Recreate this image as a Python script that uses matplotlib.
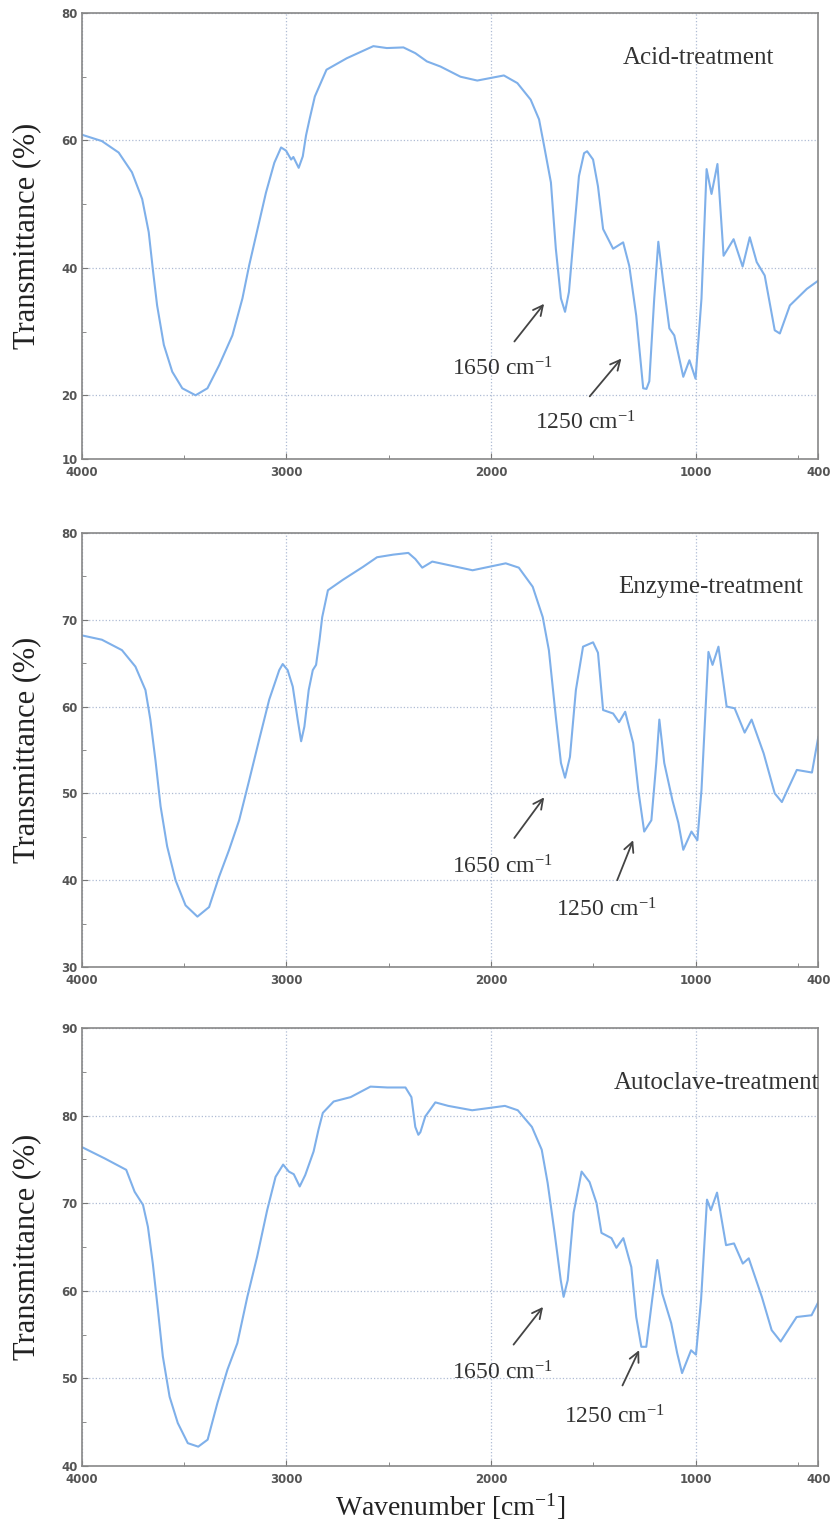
import numpy as np
import matplotlib
matplotlib.use("Agg")
from matplotlib import pyplot as plt
from matplotlib import ticker

plt.rcParams['mathtext.fontset'] = 'custom'
plt.rcParams['mathtext.rm'] = 'Liberation Serif'
plt.rcParams['mathtext.it'] = 'Liberation Serif:italic'

# (wavenumber, transmittance)
acid = np.array([
    (4000, 60.9), (3902, 59.9), (3820, 58.1), (3755, 55.0), (3705, 50.8), (3673, 45.6),
    (3653, 39.8), (3632, 34.1), (3599, 27.9), (3558, 23.7), (3509, 21.1), (3444, 20.0),
    (3386, 21.1), (3329, 24.7), (3264, 29.4), (3215, 35.2), (3182, 40.4), (3141, 46.1),
    (3100, 51.8), (3059, 56.5), (3026, 58.9), (3002, 58.4), (2977, 57.0), (2966, 57.4),
    (2940, 55.7), (2920, 57.5), (2904, 60.8), (2887, 63.3), (2861, 66.9), (2804, 71.1),
    (2705, 72.9), (2575, 74.8), (2509, 74.5), (2428, 74.6), (2370, 73.7), (2313, 72.4),
    (2247, 71.6), (2149, 70.0), (2067, 69.4), (2002, 69.8), (1937, 70.2), (1871, 69.0),
    (1806, 66.4), (1765, 63.3), (1740, 59.1), (1707, 53.4), (1683, 43.0), (1658, 35.2),
    (1638, 33.1), (1619, 36.2), (1594, 45.6), (1570, 54.4), (1545, 58.0), (1530, 58.3),
    (1501, 57.0), (1477, 52.8), (1452, 46.1), (1403, 43.0), (1354, 44.0), (1324, 40.3),
    (1290, 32.5), (1256, 21.1), (1240, 21.0), (1226, 22.2), (1202, 35.2), (1182, 44.1),
    (1158, 37.8), (1128, 30.5), (1104, 29.4), (1060, 22.9), (1030, 25.5), (1000, 22.6),
    (971, 35.2), (946, 55.5), (922, 51.6), (893, 56.3), (863, 41.9), (814, 44.5),
    (770, 40.2), (735, 44.8), (701, 40.9), (662, 38.8), (613, 30.2), (588, 29.7),
    (539, 34.1), (456, 36.7), (400, 38.0)])

enzyme = np.array([
    (4000, 68.2), (3902, 67.7), (3804, 66.5), (3738, 64.6), (3689, 61.9), (3665, 58.5),
    (3640, 53.8), (3615, 48.5), (3583, 43.9), (3542, 40.0), (3493, 37.1), (3435, 35.8),
    (3378, 36.9), (3329, 40.4), (3280, 43.5), (3231, 46.9), (3182, 51.5), (3133, 56.2),
    (3084, 60.8), (3035, 64.2), (3018, 64.9), (2994, 64.2), (2969, 62.3), (2945, 58.5),
    (2928, 56.0), (2912, 57.7), (2891, 61.9), (2871, 64.2), (2855, 64.8), (2838, 67.7),
    (2825, 70.3), (2797, 73.4), (2724, 74.6), (2625, 76.1), (2557, 77.2), (2478, 77.5),
    (2404, 77.7), (2370, 77.0), (2336, 76.0), (2287, 76.7), (2208, 76.3), (2090, 75.7),
    (1928, 76.5), (1864, 76.0), (1796, 73.8), (1747, 70.3), (1717, 66.5), (1683, 58.8),
    (1658, 53.5), (1638, 51.8), (1614, 54.2), (1585, 61.9), (1550, 66.9), (1501, 67.4),
    (1477, 66.2), (1452, 59.6), (1403, 59.2), (1374, 58.2), (1344, 59.4), (1305, 55.8),
    (1280, 50.4), (1251, 45.6), (1216, 46.9), (1192, 53.5), (1177, 58.5), (1153, 53.5),
    (1113, 49.2), (1084, 46.6), (1060, 43.5), (1020, 45.6), (991, 44.6), (971, 50.4),
    (937, 66.3), (917, 64.8), (888, 66.9), (848, 60.0), (809, 59.8), (760, 57.0),
    (726, 58.5), (667, 54.6), (613, 50.0), (578, 49.0), (505, 52.7), (431, 52.4),
    (400, 56.5)])

autoclave = np.array([
    (4000, 76.4), (3888, 75.1), (3783, 73.8), (3742, 71.3), (3701, 69.8), (3677, 67.3),
    (3653, 63.1), (3628, 57.8), (3604, 52.5), (3571, 47.9), (3531, 44.9), (3482, 42.6),
    (3431, 42.2), (3385, 43.0), (3337, 47.2), (3288, 51.0), (3240, 54.0), (3191, 59.3),
    (3143, 63.9), (3094, 69.2), (3053, 73.0), (3016, 74.4), (2988, 73.6), (2964, 73.3),
    (2935, 71.9), (2908, 73.2), (2867, 75.9), (2843, 78.4), (2822, 80.3), (2769, 81.6),
    (2686, 82.1), (2589, 83.3), (2506, 83.2), (2418, 83.2), (2389, 82.1), (2370, 78.7),
    (2355, 77.8), (2345, 78.1), (2321, 79.9), (2272, 81.5), (2209, 81.1), (2092, 80.6),
    (1932, 81.1), (1869, 80.6), (1800, 78.7), (1752, 76.1), (1723, 72.3), (1689, 66.6),
    (1659, 61.2), (1645, 59.3), (1625, 61.2), (1596, 68.9), (1557, 73.6), (1518, 72.4),
    (1484, 70.0), (1460, 66.6), (1411, 66.0), (1387, 64.9), (1353, 66.0), (1314, 62.7),
    (1290, 57.0), (1265, 53.6), (1241, 53.6), (1212, 59.0), (1187, 63.5), (1163, 59.7),
    (1119, 56.3), (1090, 52.9), (1066, 50.6), (1022, 53.2), (998, 52.7), (973, 59.0),
    (944, 70.4), (925, 69.2), (895, 71.2), (851, 65.2), (812, 65.4), (769, 63.1),
    (740, 63.7), (676, 59.3), (628, 55.5), (584, 54.2), (506, 57.0), (433, 57.2),
    (400, 58.7)])

names = ["Acid-treatment", "Enzyme-treatment", "Autoclave-treatment"]
ylims = [(10, 80), (30, 80), (40, 90)]
yticks = [[10, 20, 40, 60, 80], [30, 40, 50, 60, 70, 80], [40, 50, 60, 70, 80, 90]]
yminor = [[30, 50, 70], [35, 45, 55, 65, 75], [45, 55, 65, 75, 85]]
xticks = [4000, 3000, 2000, 1000, 400]
xminor = [3500, 2500, 1500, 500]

# annotation anchors in data coords
name_pos = [(1354, 73.0), (1378, 73.8), (1401, 83.7)]
txt1650 = [(2189, 24.2), (2189, 41.5), (2190, 50.6)]
arr1650 = [((1894, 28.1), (1732, 34.7)), ((1894, 44.6), (1732, 49.8)), ((1898, 53.6), (1737, 58.4))]
txt1250 = [(1786, 15.6), (1683, 36.6), (1645, 45.6)]
arr1250 = [((1526, 19.5), (1354, 26.1)), ((1388, 39.7), (1300, 44.9)), ((1363, 48.9), (1270, 53.5))]

series = [acid, enzyme, autoclave]
boxes = [[0.098, 0.7002, 0.882, 0.2913],
         [0.098, 0.3684, 0.882, 0.2835],
         [0.098, 0.0425, 0.882, 0.2861]]

fig = plt.figure(figsize=(8.35, 15.31), dpi=100)
serif = 'Liberation Serif'
txtcol = '#333333'

for i in range(3):
    ax = fig.add_axes(boxes[i])
    d = series[i]
    ax.plot(d[:, 0], d[:, 1], color='#7fb0ea', linewidth=1.5)
    ax.set_xlim(4000, 400)
    ax.set_ylim(*ylims[i])
    ax.set_xticks(xticks)
    ax.xaxis.set_minor_locator(ticker.FixedLocator(xminor))
    ax.set_yticks(yticks[i])
    ax.yaxis.set_minor_locator(ticker.FixedLocator(yminor[i]))
    ax.grid(True, which='major', linestyle=':', color='#aebbd4', linewidth=0.9)
    ax.tick_params(which='both', direction='in', colors='#777777', labelcolor='#555555',
                   labelsize=8.5)
    ax.tick_params(axis='x', pad=5)
    ax.tick_params(axis='y', pad=3)
    ax.tick_params(which='major', length=4)
    ax.tick_params(which='minor', length=3)
    for lab in ax.get_xticklabels() + ax.get_yticklabels():
        lab.set_fontweight('bold')
    for s in ax.spines.values():
        s.set_color('#888888')
        s.set_linewidth(1.2)

    ax.text(-0.075, 0.5, "Transmittance (%)", transform=ax.transAxes, rotation=90,
            ha='center', va='center', fontsize=22, family=serif, color='#222222')

    ax.text(name_pos[i][0], name_pos[i][1], names[i], ha='left', va='center',
            fontsize=18, family=serif, color=txtcol)
    ax.text(txt1650[i][0], txt1650[i][1], r"1650 cm$^{\mathrm{-1}}$", ha='left', va='center',
            fontsize=17, family=serif, color=txtcol)
    ax.text(txt1250[i][0], txt1250[i][1], r"1250 cm$^{\mathrm{-1}}$", ha='left', va='center',
            fontsize=17, family=serif, color=txtcol)
    for tail, head in (arr1650[i], arr1250[i]):
        ax.annotate("", xy=head, xytext=tail,
                    arrowprops=dict(arrowstyle='->,head_length=0.7,head_width=0.35',
                                    color='#444444', lw=1.3))

    if i == 2:
        ax.set_xlabel(r"Wavenumber [cm$^{\mathrm{-1}}$]", fontsize=20, family=serif,
                      color='#222222', labelpad=4)

fig.savefig("out.png", dpi=100)
